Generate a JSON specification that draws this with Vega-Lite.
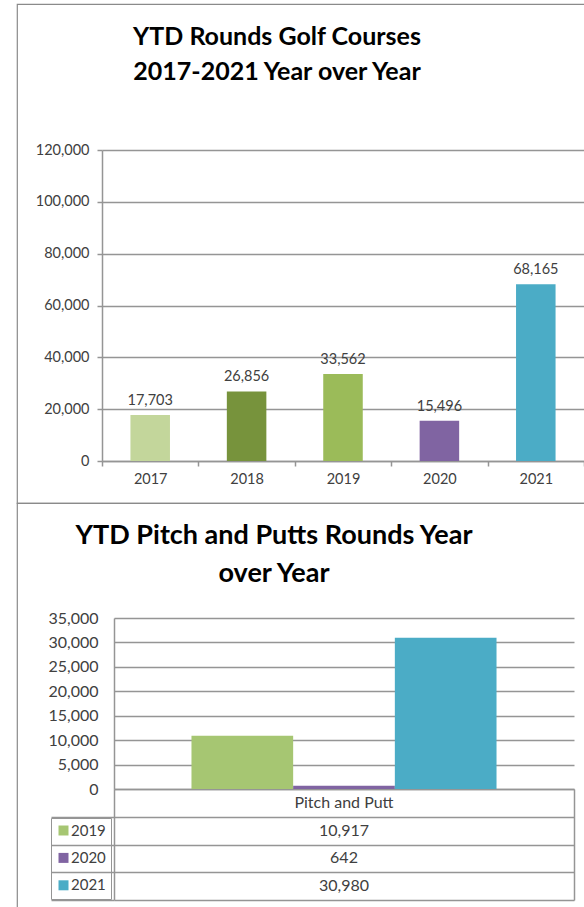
{
  "$schema": "https://vega.github.io/schema/vega-lite/v6.json",
  "padding": {"left": 16, "top": 3, "right": 0, "bottom": 0},
  "spacing": 0,
  "bounds": "flush",
  "resolve": {"scale": {"color": "independent"}},
  "config": {
    "font": "Lato",
    "axis": {"domainColor": "#959595", "domainWidth": 1.5, "tickColor": "#959595", "tickWidth": 1.5, "gridColor": "#959595", "gridWidth": 1.5, "gridOpacity": 1, "labelColor": "#404040", "title": null}
  },
  "datasets": {
    "golf": [
      {"year": "2017", "rounds": 17703},
      {"year": "2018", "rounds": 26856},
      {"year": "2019", "rounds": 33562},
      {"year": "2020", "rounds": 15496},
      {"year": "2021", "rounds": 68165}
    ],
    "pitch": [
      {"category": "Pitch and Putt", "year": "2019", "rounds": 10917},
      {"category": "Pitch and Putt", "year": "2020", "rounds": 642},
      {"category": "Pitch and Putt", "year": "2021", "rounds": 30980}
    ],
    "header": [
      {"category": "Pitch and Putt", "row": "Pitch and Putt"}
    ]
  },
  "vconcat": [
    {
      "width": 567,
      "height": 499,
      "view": {"stroke": "#8a8a8a", "strokeWidth": 1.2, "strokeDash": [567, 499, 1066, 0]},
      "title": {"text": ["YTD Rounds Golf Courses", "2017-2021 Year over Year"], "fontSize": 25, "fontWeight": "bold", "color": "#000000", "anchor": "middle", "dx": -23.5, "lineHeight": 35, "offset": -81},
      "data": {"name": "golf"},
      "encoding": {
        "x": {"field": "year", "type": "nominal", "sort": null,
          "scale": {"range": [85, 567], "paddingInner": 0, "paddingOuter": 0},
          "axis": {"orient": "bottom", "offset": -42, "tickBand": "extent", "labelAngle": 0, "tickSize": 5, "labelPadding": 6, "labelFontSize": 14.5, "grid": false}},
        "y": {"field": "rounds", "type": "quantitative",
          "scale": {"domain": [0, 120000], "range": [457, 146], "nice": false, "zero": true},
          "axis": {"orient": "left", "offset": -85, "values": [0, 20000, 40000, 60000, 80000, 100000, 120000], "labelExpr": "format(datum.value, ',')", "tickSize": 5, "labelPadding": 8, "labelFontSize": 14.5, "grid": true}}
      },
      "layer": [
        {"mark": {"type": "bar", "width": {"band": 0.41}},
          "encoding": {"color": {"field": "year", "type": "nominal", "scale": {"domain": ["2017", "2018", "2019", "2020", "2021"], "range": ["#c3d69b", "#77933c", "#9bbb59", "#8064a2", "#4bacc6"]}, "legend": null}}},
        {"mark": {"type": "text", "baseline": "bottom", "dy": -7, "fontSize": 14.5, "color": "#404040"},
          "encoding": {"text": {"field": "rounds", "type": "quantitative", "format": ","}}}
      ]
    },
    {
      "width": 567,
      "height": 404,
      "view": {"stroke": "#8a8a8a", "strokeWidth": 1.2, "strokeDash": [567, 971, 404, 0]},
      "title": {"text": ["YTD Pitch and Putts Rounds Year", "over Year"], "fontSize": 27, "fontWeight": "bold", "color": "#000000", "anchor": "middle", "dx": -26.5, "lineHeight": 38, "offset": -85},
      "resolve": {"scale": {"y": "independent"}},
      "layer": [
        {
          "data": {"name": "pitch"},
          "mark": {"type": "bar"},
          "encoding": {
            "x": {"field": "category", "type": "nominal",
              "scale": {"range": [97, 557], "paddingInner": 0, "paddingOuter": 0.254},
              "axis": {"orient": "bottom", "offset": -118, "labels": false, "ticks": false, "grid": false}},
            "xOffset": {"field": "year", "type": "nominal", "scale": {"paddingInner": 0, "paddingOuter": 0}},
            "y": {"field": "rounds", "type": "quantitative",
              "scale": {"domain": [0, 35000], "range": [286, 115], "nice": false},
              "axis": {"orient": "left", "offset": -97, "values": [0, 5000, 10000, 15000, 20000, 25000, 30000, 35000], "labelExpr": "format(datum.value, ',')", "ticks": false, "labelPadding": 16, "labelFontSize": 16, "grid": true}},
            "color": {"field": "year", "type": "nominal",
              "scale": {"domain": ["2019", "2020", "2021"], "range": ["#a6c672", "#8064a2", "#4bacc6"]},
              "legend": {"orient": "none", "legendX": 34, "legendY": 315, "title": null, "symbolType": "square", "symbolSize": 100, "symbolStrokeWidth": 0, "labelFontSize": 15, "labelColor": "#404040", "rowPadding": 11.4, "padding": 5, "strokeColor": "#959595", "labelOffset": 0}}
          }
        },
        {
          "data": {"name": "pitch"},
          "mark": {"type": "text", "fontSize": 16, "color": "#404040"},
          "encoding": {
            "x": {"field": "category", "type": "nominal", "axis": null},
            "y": {"field": "year", "type": "nominal",
              "scale": {"domain": ["Pitch and Putt", "2019", "2020", "2021"], "range": [286, 397], "paddingInner": 0, "paddingOuter": 0},
              "axis": {"orient": "left", "offset": -97, "labels": false, "tickBand": "extent", "tickSize": 63, "tickOpacity": {"condition": {"test": "datum.extra", "value": 0}, "value": 1}, "grid": true, "domain": true}},
            "text": {"field": "rounds", "type": "quantitative", "format": ","}
          }
        },
        {
          "data": {"name": "header"},
          "mark": {"type": "text", "fontSize": 16, "color": "#404040"},
          "encoding": {
            "x": {"field": "category", "type": "nominal", "axis": null},
            "y": {"field": "row", "type": "nominal",
              "scale": {"domain": ["Pitch and Putt", "2019", "2020", "2021"], "range": [286, 397], "paddingInner": 0, "paddingOuter": 0},
              "axis": {"orient": "right", "offset": -10, "labels": false, "ticks": false, "grid": false, "domain": true}},
            "text": {"field": "row", "type": "nominal"}
          }
        }
      ]
    }
  ]
}
